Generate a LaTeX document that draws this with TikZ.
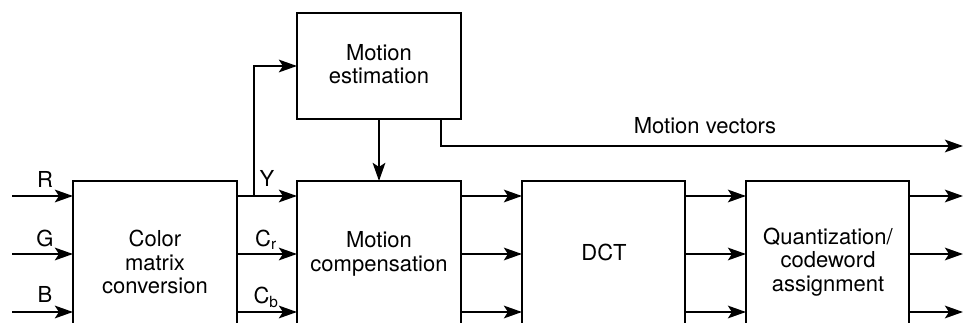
\documentclass[tikz,border=0pt]{standalone}
\usepackage{fontspec}
\setmainfont{TeX Gyre Heros}
\usetikzlibrary{arrows.meta}
\begin{document}
\begin{tikzpicture}[x=1pt,y=-1pt,
  wire/.style={line width=2.8pt,-{Stealth[length=18pt,width=12.5pt,inset=4pt]}},
  blk/.style={line width=2.8pt},
  txt/.style={font=\fontsize{22}{23.5}\selectfont,align=center,inner sep=0pt},
  lbl/.style={font=\fontsize{22}{23.5}\selectfont,inner sep=0pt}]
\useasboundingbox (0,0) rectangle (963,323);
\clip (0,0) rectangle (963,323);
% open-bottomed processing blocks
\draw[blk] (73,335) -- (73,181) -- (237,181) -- (237,335);
\draw[blk] (297,335) -- (297,181) -- (461,181) -- (461,335);
\draw[blk] (522,335) -- (522,181) -- (685,181) -- (685,335);
\draw[blk] (746,335) -- (746,181) -- (909,181) -- (909,335);
\draw[blk] (297,13) rectangle (461,119);
% anchor coordinates on block edges
\coordinate (cmL1) at (73,196);  \coordinate (cmL2) at (73,254);  \coordinate (cmL3) at (73,312);
\coordinate (cmR1) at (237,196); \coordinate (cmR2) at (237,254); \coordinate (cmR3) at (237,312);
\coordinate (mcL1) at (297,196); \coordinate (mcL2) at (297,254); \coordinate (mcL3) at (297,312);
\coordinate (mcR1) at (461,196); \coordinate (mcR2) at (461,254); \coordinate (mcR3) at (461,312);
\coordinate (dcL1) at (522,196); \coordinate (dcL2) at (522,254); \coordinate (dcL3) at (522,312);
\coordinate (dcR1) at (685,196); \coordinate (dcR2) at (685,254); \coordinate (dcR3) at (685,312);
\coordinate (qL1) at (746,196);  \coordinate (qL2) at (746,254);  \coordinate (qL3) at (746,312);
\coordinate (qR1) at (909,196);  \coordinate (qR2) at (909,254);  \coordinate (qR3) at (909,312);
\coordinate (inR) at (12,196); \coordinate (inG) at (12,254); \coordinate (inB) at (12,312);
\coordinate (out1) at (963,196); \coordinate (out2) at (963,254); \coordinate (out3) at (963,312);
\coordinate (meL) at (297,66); \coordinate (meB) at (379,119); \coordinate (mcT) at (379,181);
\coordinate (mvS) at (441,119); \coordinate (mvE) at (963,146);
\coordinate (ytap) at (254,196);
% block texts
\node[txt] (cm) at (155,262) {Color\\matrix\\conversion};
\node[txt] (mc) at (379,254) {Motion\\compensation};
\node[txt] (dct) at (604,252) {DCT};
\node[txt] (qa) at (828,262) {Quantization/\\codeword\\assignment};
\node[txt] (me) at (379,64) {Motion\\estimation};
% inputs
\draw[wire] (inR) -- (cmL1);
\draw[wire] (inG) -- (cmL2);
\draw[wire] (inB) -- (cmL3);
\node[lbl] (lR) at (45,179) {R};
\node[lbl] (lG) at (45,238) {G};
\node[lbl] (lB) at (45,294) {B};
% colour components
\draw[wire] (cmR1) -- (mcL1);
\draw[wire] (cmR2) -- (mcL2);
\draw[wire] (cmR3) -- (mcL3);
\node[lbl] (lY) at (267,178) {Y};
\node[lbl] (lCr) at (266,240) {C\textsubscript{r}};
\node[lbl] (lCb) at (266,297) {C\textsubscript{b}};
% luminance branch to motion estimation
\draw[wire] (ytap) |- (meL);
\draw[wire] (meB) -- (mcT);
% motion vectors
\draw[wire] (mvS) |- (mvE);
\node[lbl] (lmv) at (705,126) {Motion vectors};
% data paths
\draw[wire] (mcR1) -- (dcL1);
\draw[wire] (mcR2) -- (dcL2);
\draw[wire] (mcR3) -- (dcL3);
\draw[wire] (dcR1) -- (qL1);
\draw[wire] (dcR2) -- (qL2);
\draw[wire] (dcR3) -- (qL3);
\draw[wire] (qR1) -- (out1);
\draw[wire] (qR2) -- (out2);
\draw[wire] (qR3) -- (out3);
\end{tikzpicture}
\end{document}
